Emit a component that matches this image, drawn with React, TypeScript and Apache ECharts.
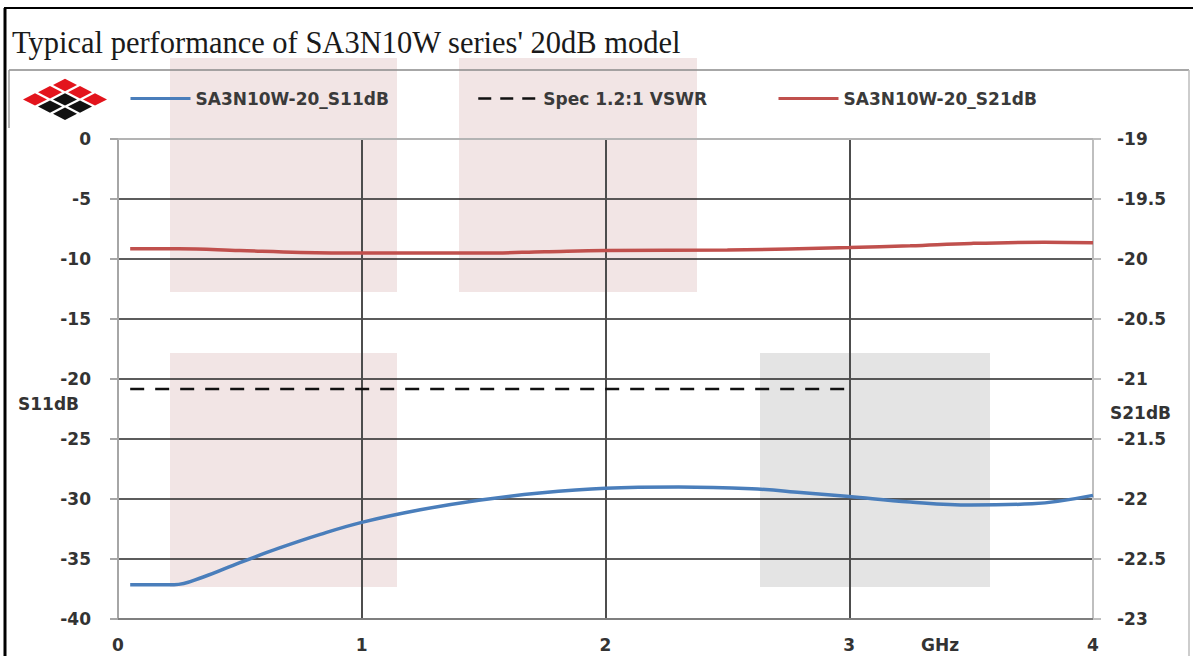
import React, { useEffect, useRef } from "react";
import * as echarts from "echarts";

// ---- data ----
const titleText = "Typical performance of SA3N10W series' 20dB model";
const s11Name = "SA3N10W-20_S11dB";
const specName = "Spec 1.2:1 VSWR";
const s21Name = "SA3N10W-20_S21dB";

const s11Freq = [0.05, 0.23, 0.35, 0.5, 0.66, 0.83, 1.0, 1.24, 1.48, 1.73, 2.0, 2.3, 2.6, 2.8, 3.0, 3.25, 3.5, 3.75, 4.0];
const s11Values = [-37.15, -37.15, -36.5, -35.3, -34.1, -32.95, -31.95, -30.9, -30.1, -29.5, -29.1, -29.0, -29.15, -29.45, -29.8, -30.25, -30.5, -30.4, -29.7];

const s21Freq = [0.05, 0.25, 0.5, 0.75, 1.0, 1.5, 1.75, 2.0, 2.5, 3.0, 3.25, 3.5, 3.8, 4.0];
const s21Values = [-19.915, -19.915, -19.93, -19.945, -19.95, -19.95, -19.94, -19.93, -19.925, -19.905, -19.89, -19.87, -19.86, -19.865];

const specFreq = [0.05, 3.0];
const specValues = [-20.83, -20.83];

const xRange = [0, 4];
const leftRange = [-40, 0];
const rightRange = [-23, -19];

const labelFont = { fontFamily: "DejaVu Sans", fontWeight: "bold" as const, fontSize: 17, color: "#333333" };

function logo() {
  const els: any[] = [];
  const black = new Set(["1,1", "2,1", "1,2", "2,2"]);
  for (let i = 0; i < 3; i++) {
    for (let j = 0; j < 3; j++) {
      const cx = 65 + (i - j) * 15;
      const cy = 85 + (i + j) * 7.2;
      const w = 12, h = 6.2;
      els.push({
        type: "polygon",
        z: 10,
        shape: { points: [[cx, cy - h], [cx + w, cy], [cx, cy + h], [cx - w, cy]] },
        style: { fill: black.has(`${i},${j}`) ? "#111111" : "#e3141c" },
      });
    }
  }
  return els;
}

export default function App() {
  const ref = useRef<HTMLDivElement>(null);
  useEffect(() => {
    if (!ref.current) return;
    const chart = echarts.init(ref.current, null, { renderer: "svg" });
    const legendBase = {
      top: 85,
      itemWidth: 60,
      itemHeight: 14,
      itemStyle: { opacity: 0 },
      textStyle: { fontFamily: "DejaVu Sans", fontWeight: "bold", fontSize: 17, color: "#3a3a3a" },
    };
    chart.setOption({
      animation: false,
      backgroundColor: "#ffffff",
      grid: { left: 118, right: 100, top: 139, bottom: 37 },
      legend: [
        { ...legendBase, left: 124, data: [s11Name], lineStyle: { width: 3 } },
        { ...legendBase, left: 472, data: [specName], lineStyle: { width: 2.5, type: [13, 9] } },
        { ...legendBase, left: 772, data: [s21Name], lineStyle: { width: 3 } },
      ],
      xAxis: [
        {
          type: "value",
          position: "bottom",
          min: xRange[0],
          max: xRange[1],
          interval: 1,
          axisLine: { onZero: false, lineStyle: { color: "#7f7f7f", width: 2 } },
          axisTick: { show: false },
          axisLabel: { ...labelFont, margin: 17 },
          splitLine: { show: true, showMinLine: false, showMaxLine: false, lineStyle: { color: "#4d4d4d", width: 2 } },
        },
        {
          type: "value",
          position: "top",
          min: xRange[0],
          max: xRange[1],
          interval: 1,
          axisLine: { show: true, onZero: false, lineStyle: { color: "#b3b3b3", width: 2 } },
          axisTick: { show: false },
          axisLabel: { show: false },
          splitLine: { show: false },
        },
      ],
      yAxis: [
        {
          type: "value",
          position: "left",
          min: leftRange[0],
          max: leftRange[1],
          interval: 5,
          axisLine: { show: true, onZero: false, lineStyle: { color: "#a6a6a6", width: 2 } },
          axisTick: { show: true, inside: false, length: 8, lineStyle: { color: "#a6a6a6", width: 2 } },
          axisLabel: { ...labelFont, margin: 27 },
          splitLine: { show: true, showMinLine: false, showMaxLine: false, lineStyle: { color: "#262626", width: 1.5 } },
        },
        {
          type: "value",
          position: "right",
          min: rightRange[0],
          max: rightRange[1],
          interval: 0.5,
          axisLine: { show: true, onZero: false, lineStyle: { color: "#bfbfbf", width: 2 } },
          axisTick: { show: true, inside: false, length: 8, lineStyle: { color: "#bfbfbf", width: 2 } },
          axisLabel: { ...labelFont, margin: 24 },
          splitLine: { show: false },
        },
      ],
      series: [
        {
          name: s11Name,
          type: "line",
          xAxisIndex: 0,
          yAxisIndex: 0,
          smooth: 0.4,
          symbol: "none",
          z: 5,
          lineStyle: { color: "#4a7ebb", width: 3.5 },
          itemStyle: { color: "#4a7ebb" },
          data: s11Freq.map((f, i) => [f, s11Values[i]]),
        },
        {
          name: specName,
          type: "line",
          xAxisIndex: 0,
          yAxisIndex: 0,
          symbol: "none",
          z: 5,
          lineStyle: { color: "#111111", width: 2.5, type: [14, 11] },
          itemStyle: { color: "#111111" },
          data: specFreq.map((f, i) => [f, specValues[i]]),
        },
        {
          name: s21Name,
          type: "line",
          xAxisIndex: 0,
          yAxisIndex: 1,
          smooth: 0.4,
          symbol: "none",
          z: 5,
          lineStyle: { color: "#c0504d", width: 3.5 },
          itemStyle: { color: "#c0504d" },
          data: s21Freq.map((f, i) => [f, s21Values[i]]),
        },
      ],
      graphic: [
        // background watermark blocks
        { type: "rect", z: -5, shape: { x: 170, y: 58, width: 227, height: 234 }, style: { fill: "#f2e5e5" } },
        { type: "rect", z: -5, shape: { x: 459, y: 58, width: 238, height: 234 }, style: { fill: "#f2e5e5" } },
        { type: "rect", z: -5, shape: { x: 170, y: 353, width: 227, height: 234 }, style: { fill: "#f2e5e5" } },
        { type: "rect", z: -5, shape: { x: 760, y: 353, width: 230, height: 234 }, style: { fill: "#e4e4e4" } },
        // frame
        { type: "line", z: 10, shape: { x1: 4, y1: 8, x2: 1193, y2: 8 }, style: { stroke: "#000000", lineWidth: 2 } },
        { type: "line", z: 10, shape: { x1: 5, y1: 8, x2: 5, y2: 656 }, style: { stroke: "#000000", lineWidth: 3 } },
        { type: "line", z: 10, shape: { x1: 9, y1: 70, x2: 1189, y2: 70 }, style: { stroke: "#8a8a8a", lineWidth: 1.5 } },
        { type: "line", z: 10, shape: { x1: 9, y1: 70, x2: 9, y2: 128 }, style: { stroke: "#9a9a9a", lineWidth: 1.5 } },
        { type: "line", z: 10, shape: { x1: 1189, y1: 70, x2: 1189, y2: 656 }, style: { stroke: "#bdbdbd", lineWidth: 1.5 } },
        // title
        {
          type: "text",
          z: 10,
          x: 12,
          y: 43,
          style: { text: titleText, font: '30.5px "Liberation Serif"', fill: "#1a1a1a", verticalAlign: "middle" },
        },
        // axis names
        { type: "text", z: 10, x: 18, y: 404, style: { text: "S11dB", font: 'bold 17px "DejaVu Sans"', fill: "#333333", verticalAlign: "middle" } },
        { type: "text", z: 10, x: 1110, y: 413, style: { text: "S21dB", font: 'bold 17px "DejaVu Sans"', fill: "#333333", verticalAlign: "middle" } },
        { type: "text", z: 10, x: 921, y: 645, style: { text: "GHz", font: 'bold 17px "DejaVu Sans"', fill: "#333333", verticalAlign: "middle" } },
        ...logo(),
      ],
    });
    return () => chart.dispose();
  }, []);
  return (
    <div
      ref={ref}
      style={{ position: "absolute", left: 0, top: 0, width: 1193, height: 656, background: "#fff" }}
    />
  );
}
